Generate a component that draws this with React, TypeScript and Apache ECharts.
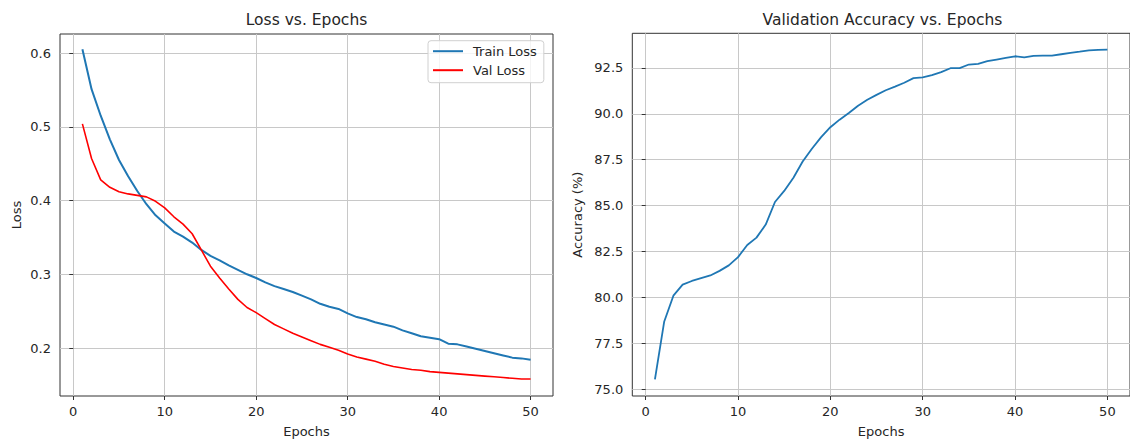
import React, { useEffect, useRef } from "react";
import * as echarts from "echarts";

const epochs: number[] = Array.from({ length: 50 }, (_, i) => i + 1);

const trainLoss: number[] = [
  0.605, 0.551, 0.515, 0.483, 0.455, 0.433, 0.413, 0.395, 0.38, 0.369,
  0.358, 0.351, 0.343, 0.333, 0.325, 0.319, 0.312, 0.306, 0.3, 0.295,
  0.289, 0.284, 0.28, 0.276, 0.271, 0.266, 0.26, 0.256, 0.253, 0.247,
  0.242, 0.239, 0.235, 0.232, 0.229, 0.224, 0.22, 0.216, 0.214, 0.212,
  0.206, 0.205, 0.202, 0.199, 0.196, 0.193, 0.19, 0.187, 0.186, 0.184,
];

const valLoss: number[] = [
  0.504, 0.457, 0.428, 0.418, 0.412, 0.409, 0.407, 0.405, 0.399, 0.39,
  0.378, 0.368, 0.355, 0.333, 0.311, 0.295, 0.28, 0.266, 0.255, 0.248,
  0.24, 0.232, 0.226, 0.22, 0.215, 0.21, 0.205, 0.201, 0.197, 0.192,
  0.188, 0.185, 0.182, 0.178, 0.175, 0.173, 0.171, 0.17, 0.168, 0.167,
  0.166, 0.165, 0.164, 0.163, 0.162, 0.161, 0.16, 0.159, 0.158, 0.158,
];

const valAcc: number[] = [
  75.54, 78.68, 80.1, 80.7, 80.9, 81.05, 81.2, 81.45, 81.75, 82.2,
  82.86, 83.26, 83.97, 85.2, 85.8, 86.52, 87.4, 88.1, 88.73, 89.27,
  89.68, 90.04, 90.44, 90.76, 91.03, 91.28, 91.48, 91.69, 91.94, 91.98,
  92.1, 92.27, 92.48, 92.48, 92.68, 92.72, 92.86, 92.95, 93.04, 93.13,
  93.07, 93.15, 93.16, 93.16, 93.24, 93.32, 93.38, 93.45, 93.48, 93.49,
];

const xTicks: number[] = [0, 10, 20, 30, 40, 50];
const lossTicks: number[] = [0.2, 0.3, 0.4, 0.5, 0.6];
const accTicks: number[] = [75, 77.5, 80, 82.5, 85, 87.5, 90, 92.5];

const FONT = "'DejaVu Sans', sans-serif";
const TEXT = "#262626";
const GRID = "#c8c8c8";

const pairs = (ys: number[]) => epochs.map((e, i) => [e, ys[i]]);

export default function App() {
  const ref = useRef<HTMLDivElement>(null);

  useEffect(() => {
    if (!ref.current) return;
    const chart = echarts.init(ref.current, null, { renderer: "svg" });

    const xAxisBase = (gridIndex: number) => ({
      type: "value",
      gridIndex,
      min: -1.45,
      max: 52.45,
      name: "Epochs",
      nameLocation: "middle",
      nameGap: 29,
      nameTextStyle: { fontFamily: FONT, fontSize: 13, color: TEXT },
      axisLine: { show: false },
      axisTick: {
        show: true,
        inside: false,
        length: 4,
        customValues: xTicks,
        lineStyle: { color: "#333", width: 1 },
      },
      axisLabel: {
        customValues: xTicks,
        margin: 9,
        fontFamily: FONT,
        fontSize: 13,
        color: TEXT,
      },
      splitLine: { show: true, lineStyle: { color: GRID, width: 1 } },
    });

    const yAxisBase = (
      gridIndex: number,
      min: number,
      max: number,
      ticks: number[],
      name: string,
      nameGap: number
    ) => ({
      type: "value",
      gridIndex,
      min,
      max,
      name,
      nameLocation: "middle",
      nameGap,
      nameRotate: 90,
      nameTextStyle: { fontFamily: FONT, fontSize: 13, color: TEXT },
      axisLine: { show: false },
      axisTick: {
        show: true,
        inside: false,
        length: 4,
        customValues: ticks,
        lineStyle: { color: "#333", width: 1 },
      },
      axisLabel: {
        customValues: ticks,
        margin: 9,
        fontFamily: FONT,
        fontSize: 13,
        color: TEXT,
        formatter: (v: number) => v.toFixed(1),
      },
      splitLine: { show: true, lineStyle: { color: GRID, width: 1 } },
    });

    chart.setOption({
      animation: false,
      backgroundColor: "#ffffff",
      grid: [
        {
          left: 60,
          top: 34,
          width: 493,
          height: 367.3,
          show: true,
          borderColor: "#333",
          borderWidth: 1,
          backgroundColor: "transparent",
        },
        {
          left: 632.3,
          top: 33.3,
          width: 500.4,
          height: 366.7,
          show: true,
          borderColor: "#333",
          borderWidth: 1,
          backgroundColor: "transparent",
        },
      ],
      xAxis: [xAxisBase(0), xAxisBase(1)],
      yAxis: [
        yAxisBase(0, 0.135, 0.6258, lossTicks, "Loss", 37),
        yAxisBase(1, 74.64, 94.38, accTicks, "Accuracy (%)", 48),
      ],
      legend: {
        data: ["Train Loss", "Val Loss"],
        orient: "vertical",
        left: 428,
        top: 40.7,
        icon: "rect",
        itemWidth: 30,
        itemHeight: 2,
        itemGap: 6,
        padding: [4, 7, 6, 5],
        borderColor: "#d0d0d0",
        borderWidth: 1,
        borderRadius: 3,
        backgroundColor: "rgba(255,255,255,0.8)",
        selectedMode: false,
        textStyle: {
          fontFamily: FONT,
          fontSize: 13,
          color: TEXT,
          padding: [0, 0, 0, 5],
        },
      },
      graphic: [
        {
          type: "text",
          x: 306.5,
          y: 19.5,
          style: {
            text: "Loss vs. Epochs",
            align: "center",
            verticalAlign: "middle",
            font: `15.5px ${FONT}`,
            fill: TEXT,
          },
        },
        {
          type: "text",
          x: 882.5,
          y: 19.5,
          style: {
            text: "Validation Accuracy vs. Epochs",
            align: "center",
            verticalAlign: "middle",
            font: `15.5px ${FONT}`,
            fill: TEXT,
          },
        },
      ],
      series: [
        {
          name: "Train Loss",
          type: "line",
          xAxisIndex: 0,
          yAxisIndex: 0,
          data: pairs(trainLoss),
          symbol: "none",
          showSymbol: false,
          lineStyle: { color: "#1f77b4", width: 2 },
          itemStyle: { color: "#1f77b4" },
          z: 3,
        },
        {
          name: "Val Loss",
          type: "line",
          xAxisIndex: 0,
          yAxisIndex: 0,
          data: pairs(valLoss),
          symbol: "none",
          showSymbol: false,
          lineStyle: { color: "#ff0000", width: 1.6 },
          itemStyle: { color: "#ff0000" },
          z: 3,
        },
        {
          name: "Val Accuracy",
          type: "line",
          xAxisIndex: 1,
          yAxisIndex: 1,
          data: pairs(valAcc),
          symbol: "none",
          showSymbol: false,
          lineStyle: { color: "#1f77b4", width: 1.8 },
          itemStyle: { color: "#1f77b4" },
          z: 3,
        },
      ],
    });

    return () => chart.dispose();
  }, []);

  return (
    <div
      ref={ref}
      style={{ position: "fixed", left: 0, top: 0, width: 1130, height: 443, background: "#fff" }}
    />
  );
}
